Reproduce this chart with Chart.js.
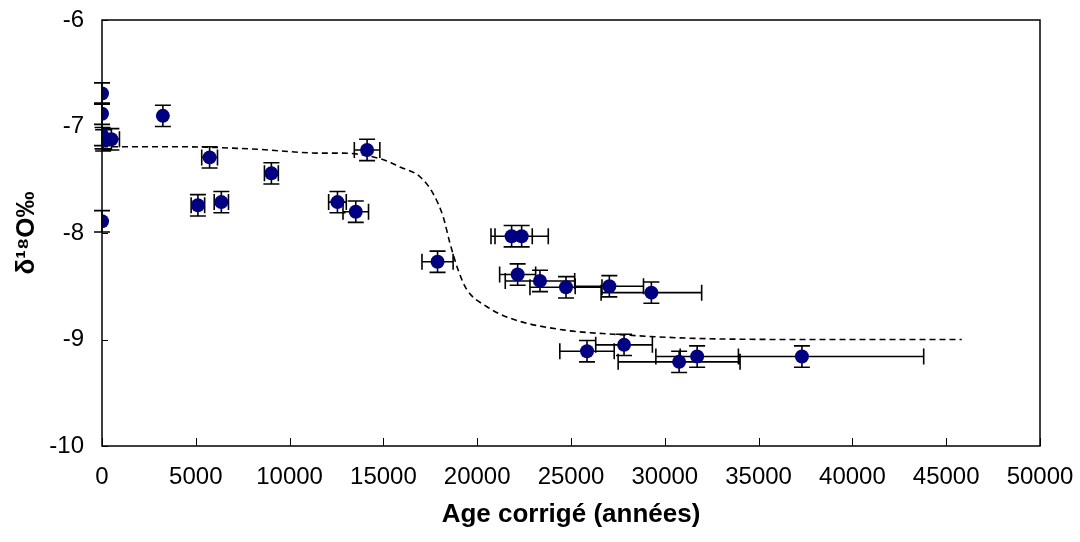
<!DOCTYPE html>
<html>
<head>
<meta charset="utf-8">
<script src="https://cdn.jsdelivr.net/npm/chart.js@4.4.1/dist/chart.umd.min.js"></script>
<style>
    html, body { margin: 0; padding: 0; background: #fff; }
    #wrap { width: 1080px; height: 542px; }
</style>
</head>
<body>
<div id="wrap"><canvas id="delta_age"></canvas></div>
<script>
// mesures : age corrigé (années) et delta 18O (‰), avec incertitudes
const ages = [0, 0, 0, 30, 60, 500, 0, 3245, 5112, 5736, 6361, 9029, 12551, 13527, 14130,
    17886, 21835, 22369, 22156, 23346, 24733, 27044, 29285, 25854, 27828, 30763, 31724, 37310];
const delta = [-6.69, -6.88, -7.08, -7.11, -7.13, -7.12, -7.89, -6.90, -7.74, -7.29, -7.71, -7.44, -7.71, -7.80, -7.22,
    -8.27, -8.03, -8.03, -8.39, -8.45, -8.51, -8.50, -8.56, -9.11, -9.05, -9.21, -9.16, -9.16];
const ageErr = [0, 0, 0, 0, 0, 430, 0, 0, 360, 420, 380, 370, 470, 680, 680,
    830, 1100, 1420, 960, 1850, 1920, 1820, 2680, 1450, 1510, 3250, 2200, 6490];
const deltaErr = [0.1, 0.1, 0.1, 0.1, 0.1, 0.1, 0.1, 0.1, 0.1, 0.1, 0.1, 0.1, 0.1, 0.1, 0.1,
    0.1, 0.1, 0.1, 0.1, 0.1, 0.1, 0.1, 0.1, 0.1, 0.1, 0.1, 0.1, 0.1];

// courbe modèle (tirets)
const courbeAge = [0, 4000, 7870, 11770, 12840, 14970, 15880, 16940, 17650, 18190, 18540, 18990, 19440,
    20500, 21750, 24580, 27250, 31740, 38000, 45830];
const courbeDelta = [-7.19, -7.19, -7.21, -7.25, -7.25, -7.31, -7.38, -7.47, -7.63, -7.85, -8.09, -8.35, -8.53,
    -8.69, -8.80, -8.91, -8.95, -8.99, -9.00, -9.00];

const xTicks = [0, 5000, 10000, 15000, 20000, 25000, 30000, 35000, 40000, 45000, 50000];
const yTicks = [-10, -9, -8, -7, -6];

const police = "'Liberation Sans', Arial, sans-serif";

const mesures = ages.map((a, i) => ({ x: a, y: delta[i] }));
const courbe = courbeAge.map((a, i) => ({ x: a, y: courbeDelta[i] }));

// barres d'erreur sous les points
const barresErreur = {
    id: 'barresErreur',
    beforeDatasetsDraw(chart) {
        const ctx = chart.ctx, sx = chart.scales.x, sy = chart.scales.y;
        const cap = 8;
        ctx.save();
        ctx.strokeStyle = '#000';
        ctx.lineWidth = 1.6;
        ctx.beginPath();
        for (let i = 0; i < ages.length; i++) {
            const px = sx.getPixelForValue(ages[i]);
            const py = sy.getPixelForValue(delta[i]);
            const y1 = sy.getPixelForValue(delta[i] + deltaErr[i]);
            const y2 = sy.getPixelForValue(delta[i] - deltaErr[i]);
            ctx.moveTo(px, y1); ctx.lineTo(px, y2);
            ctx.moveTo(px - cap, y1); ctx.lineTo(px + cap, y1);
            ctx.moveTo(px - cap, y2); ctx.lineTo(px + cap, y2);
            if (ageErr[i] > 0) {
                const x1 = sx.getPixelForValue(ages[i] - ageErr[i]);
                const x2 = sx.getPixelForValue(ages[i] + ageErr[i]);
                ctx.moveTo(x1, py); ctx.lineTo(x2, py);
                ctx.moveTo(x1, py - cap); ctx.lineTo(x1, py + cap);
                ctx.moveTo(x2, py - cap); ctx.lineTo(x2, py + cap);
            }
        }
        ctx.stroke();
        ctx.restore();
    }
};

// cadre et graduations intérieures
const cadre = {
    id: 'cadre',
    afterDatasetsDraw(chart) {
        const ctx = chart.ctx, a = chart.chartArea, sx = chart.scales.x, sy = chart.scales.y;
        ctx.save();
        ctx.strokeStyle = '#000';
        ctx.lineWidth = 1.5;
        ctx.strokeRect(a.left, a.top, a.right - a.left, a.bottom - a.top);
        ctx.lineWidth = 1;
        ctx.beginPath();
        xTicks.forEach(v => {
            const px = Math.round(sx.getPixelForValue(v)) + 0.5;
            ctx.moveTo(px, a.bottom); ctx.lineTo(px, a.bottom - 8);
        });
        yTicks.forEach(v => {
            const py = Math.round(sy.getPixelForValue(v)) + 0.5;
            ctx.moveTo(a.left, py); ctx.lineTo(a.left + 6, py);
        });
        ctx.stroke();
        ctx.restore();
    }
};

new Chart(document.getElementById('delta_age'), {
    type: 'scatter',
    data: {
        datasets: [{
            label: 'mesures',
            data: mesures,
            pointRadius: 7,
            pointBackgroundColor: '#000080',
            pointBorderColor: '#000080',
            pointBorderWidth: 0,
            showLine: false
        }, {
            label: 'modèle',
            data: courbe,
            showLine: true,
            borderColor: '#000',
            borderWidth: 1.6,
            borderDash: [6, 4],
            pointRadius: 0,
            cubicInterpolationMode: 'monotone',
            fill: false
        }]
    },
    options: {
        responsive: true,
        maintainAspectRatio: false,
        animation: false,
        events: [],
        layout: { padding: { top: 20, right: 40, left: 0, bottom: 12 } },
        plugins: {
            legend: { display: false },
            tooltip: { enabled: false }
        },
        scales: {
            x: {
                type: 'linear',
                min: 0,
                max: 50000,
                afterFit: s => { s.height = 84; s.paddingLeft = 0; s.paddingRight = 0; },
                afterBuildTicks: s => { s.ticks = xTicks.map(v => ({ value: v })); },
                grid: { display: false, drawTicks: false },
                border: { display: false },
                ticks: {
                    color: '#000',
                    padding: 17,
                    maxRotation: 0,
                    font: { family: police, size: 24 },
                    callback: v => String(v)
                },
                title: {
                    display: true,
                    text: 'Age corrigé (années)',
                    color: '#000',
                    font: { family: police, size: 26, weight: 'bold' },
                    padding: { top: 0, bottom: 0 }
                }
            },
            y: {
                min: -10,
                max: -6,
                afterFit: s => { s.width = 102; s.paddingTop = 0; s.paddingBottom = 0; },
                afterBuildTicks: s => { s.ticks = yTicks.map(v => ({ value: v })); },
                grid: { display: false, drawTicks: false },
                border: { display: false },
                ticks: {
                    color: '#000',
                    padding: 18,
                    font: { family: police, size: 24 },
                    callback: v => String(v)
                },
                title: {
                    display: true,
                    text: 'δ¹⁸O‰',
                    color: '#000',
                    font: { family: police, size: 26, weight: 'bold' },
                    padding: { top: 11, bottom: 0 }
                }
            }
        }
    },
    plugins: [barresErreur, cadre]
});
</script>
</body>
</html>
